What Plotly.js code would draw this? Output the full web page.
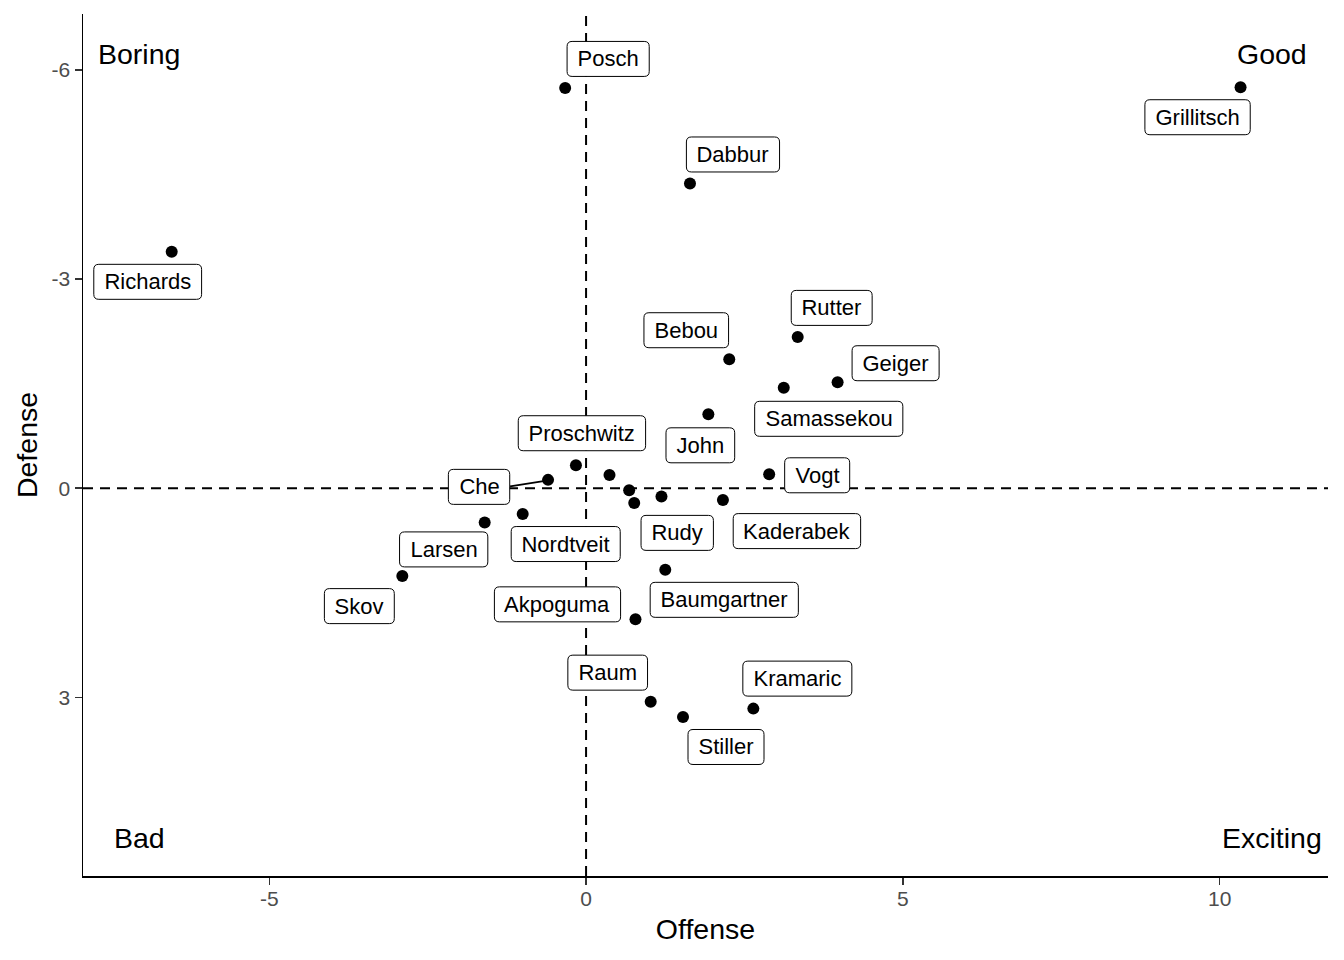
<!DOCTYPE html>
<html>
<head>
<meta charset="utf-8">
<script src="https://cdn.plot.ly/plotly-3.0.1.min.js"></script>
<style>
  html, body { margin: 0; padding: 0; background: #ffffff; }
  #chart { width: 1344px; height: 960px; }
</style>
</head>
<body>
<div id="chart"></div>
<script>
// ---------------- data ----------------
const players = ["Posch", "Grillitsch", "Dabbur", "Richards", "Rutter", "Bebou", "Geiger",
  "Samassekou", "John", "Vogt", "Proschwitz", "Che", "Larsen", "Skov", "Nordtveit", "Rudy",
  "Kaderabek", "Baumgartner", "Akpoguma", "Raum", "Stiller", "Kramaric", "", "", ""];
const offense = [-0.33, 10.33, 1.64, -6.54, 3.34, 2.26, 3.97,
  3.12, 1.93, 2.89, -0.16, -0.60, -1.60, -2.90, -1.00, 0.76,
  2.16, 1.25, 0.78, 1.02, 1.53, 2.64, 0.37, 0.68, 1.19];
const defense = [-5.74, -5.75, -4.37, -3.39, -2.17, -1.85, -1.52,
  -1.44, -1.06, -0.20, -0.33, -0.12, 0.49, 1.26, 0.37, 0.21,
  0.17, 1.17, 1.88, 3.06, 3.28, 3.16, -0.19, 0.03, 0.12];

const xTickVals = [-5, 0, 5, 10];
const yTickVals = [-6, -3, 0, 3];
const xRange = [-7.94, 11.71];
const yRange = [5.56, -6.80];   // reversed axis
const refX = 0, refY = 0;       // quadrant dividers

const quadrantText = ["Boring", "Good", "Bad", "Exciting"];
const quadrantX = [-7.05, 10.82, -7.05, 10.82];
const quadrantY = [-6.23, -6.23, 5.01, 5.01];

// ---------------- label placement (pixel offsets from point to label centre) ----------------
const labelDX = [43, -43, 43, -24, 34, -43, 58,
  45, -8, 48, 6, -69, -41, -43, 43, 43,
  74, 59, -78, -43, 43, 44, 0, 0, 0];
const labelDY = [-29, 30, -29, 30, -29, -29, -19,
  31, 31, 1, -32, 7, 27, 30, 30, 30,
  31, 30, -15, -29, 30, -30, 0, 0, 0];

const FONT = "'Liberation Sans', Arial, Helvetica, sans-serif";
const LABEL_SIZE = 22;
const BOX_H = 35;

const ctx = document.createElement('canvas').getContext('2d');
ctx.font = LABEL_SIZE + "px 'Liberation Sans'";

function roundRect(cx, cy, w, h, r) {
  // pixel coordinates, y positive up
  const l = cx - w / 2, rt = cx + w / 2, t = cy + h / 2, b = cy - h / 2;
  return `M${l + r},${b} L${rt - r},${b} Q${rt},${b} ${rt},${b + r} L${rt},${t - r} Q${rt},${t} ${rt - r},${t} ` +
         `L${l + r},${t} Q${l},${t} ${l},${t - r} L${l},${b + r} Q${l},${b} ${l + r},${b} Z`;
}

const shapes = [];
const annotations = [];

// segment for the Che label (pulled away from its point)
const cheIdx = players.indexOf("Che");
shapes.push({
  type: 'line', xref: 'x', yref: 'y', xsizemode: 'pixel', ysizemode: 'pixel',
  xanchor: offense[cheIdx], yanchor: defense[cheIdx],
  x0: -38, y0: -6.5, x1: -3, y1: -1,
  line: { color: 'black', width: 2 }, layer: 'above'
});

players.forEach((name, i) => {
  if (!name) return;
  const w = ctx.measureText(name).width + 21;
  shapes.push({
    type: 'path', xref: 'x', yref: 'y', xsizemode: 'pixel', ysizemode: 'pixel',
    xanchor: offense[i], yanchor: defense[i],
    path: roundRect(labelDX[i], -labelDY[i], w, BOX_H, 5),
    fillcolor: 'white', line: { color: 'black', width: 1 }, layer: 'above'
  });
  annotations.push({
    x: offense[i], y: defense[i], xref: 'x', yref: 'y',
    text: name, showarrow: false,
    xshift: labelDX[i], yshift: -labelDY[i],
    xanchor: 'center', yanchor: 'middle',
    width: w - 4, height: BOX_H - 4, borderpad: 0, borderwidth: 0,
    bgcolor: 'white', align: 'center', valign: 'middle',
    font: { family: FONT, size: LABEL_SIZE, color: 'black' }
  });
});

quadrantText.forEach((t, i) => {
  annotations.push({
    x: quadrantX[i], y: quadrantY[i], xref: 'x', yref: 'y',
    text: t, showarrow: false, xanchor: 'center', yanchor: 'middle',
    font: { family: FONT, size: 28.5, color: 'black' }
  });
});

const dashStyle = { color: 'black', width: 2, dash: '10px,7px' };
const vline = { type: 'scatter', mode: 'lines', x: [refX, refX], y: yRange,
  line: dashStyle, hoverinfo: 'skip', cliponaxis: true };
const hline = { type: 'scatter', mode: 'lines', x: xRange, y: [refY, refY],
  line: dashStyle, hoverinfo: 'skip', cliponaxis: true };

const points = {
  type: 'scatter', mode: 'markers',
  x: offense, y: defense,
  marker: { color: 'black', size: 12 },
  hoverinfo: 'skip'
};

const layout = {
  width: 1344, height: 960,
  margin: { l: 83, r: 16, t: 14, b: 84 },
  paper_bgcolor: 'white', plot_bgcolor: 'white',
  font: { family: FONT, color: 'black' },
  showlegend: false,
  xaxis: {
    range: xRange, tickvals: xTickVals, ticktext: xTickVals.map(String),
    showline: true, linecolor: 'black', linewidth: 1.5,
    ticks: 'outside', ticklen: 7, tickwidth: 1.5, tickcolor: '#333333',
    tickfont: { family: FONT, size: 21, color: '#4D4D4D' },
    ticklabelstandoff: -4,
    showgrid: false, zeroline: false,
    title: { text: 'Offense', font: { family: FONT, size: 28.5, color: 'black' }, standoff: 10 }
  },
  yaxis: {
    range: yRange, tickvals: yTickVals, ticktext: yTickVals.map(String),
    showline: true, linecolor: 'black', linewidth: 1.5,
    ticks: 'outside', ticklen: 7, tickwidth: 1.5, tickcolor: '#333333',
    tickfont: { family: FONT, size: 21, color: '#4D4D4D' },
    showgrid: false, zeroline: false,
    title: { text: 'Defense', font: { family: FONT, size: 28.5, color: 'black' }, standoff: 5 }
  },
  shapes: shapes,
  annotations: annotations
};

Plotly.newPlot('chart', [vline, hline, points], layout, { displayModeBar: false, staticPlot: true });
</script>
</body>
</html>
